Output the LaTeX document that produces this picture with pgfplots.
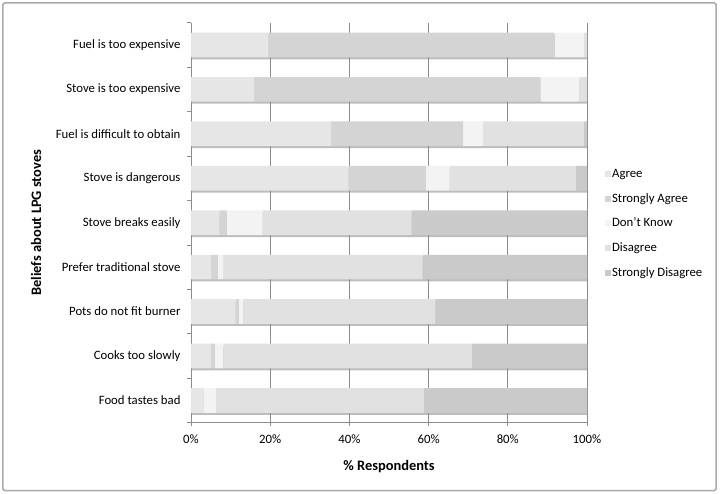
\documentclass[border=0pt]{standalone}
\usepackage{pgfplots}
\usepackage{pgfplotstable}
\pgfplotsset{compat=1.18}
\usepackage{fontspec}
\setmainfont{Carlito}
\definecolor{cAgree}{HTML}{E6E6E6}
\definecolor{cSA}{HTML}{D4D4D4}
\definecolor{cDK}{HTML}{F3F3F3}
\definecolor{cD}{HTML}{E1E1E1}
\definecolor{cSD}{HTML}{CACACA}
\definecolor{axgray}{HTML}{8C8C8C}
\definecolor{framegray}{HTML}{ABABAB}
\definecolor{shadowgray}{HTML}{BDBDBD}

\pgfplotstableread{
y agree sagree dk dis sdis total
0 19.5 72.3 7.4 0.8 0.0 100
1 15.9 72.3 9.9 1.9 0.0 100
2 35.4 33.3 5.1 25.4 0.8 100
3 39.8 19.5 6.0 31.9 2.8 100
4 7.2 1.8 9.1 37.6 44.3 100
5 5.1 1.7 1.3 50.4 41.5 100
6 11.3 0.8 1.1 48.5 38.3 100
7 5.1 0.9 2.2 62.8 29.0 100
8 3.1 0.0 3.2 52.5 41.2 100
}\beliefs

\begin{document}
\begin{tikzpicture}
\useasboundingbox (-191bp,-71.3bp) rectangle (529bp,422.7bp);
\draw[framegray, line width=1.5bp, rounded corners=1.5bp] (-188bp,-67.8bp) rectangle (525bp,419.7bp);

% bar shadows
\begin{axis}[at={(0,0)}, anchor=south west, width=396bp, height=400bp, scale only axis,
  hide axis, xmin=0, xmax=100, ymin=-0.5, ymax=8.5, y dir=reverse,
  xbar, bar width=24.7bp, bar shift=-2bp]
\addplot[fill=shadowgray, draw=none] table[x=total, y=y] {\beliefs};
\end{axis}

\begin{axis}[at={(0,0)}, anchor=south west, width=396bp, height=400bp, scale only axis,
  xbar stacked, bar width=24.7bp,
  xmin=0, xmax=100, ymin=-0.5, ymax=8.5, y dir=reverse,
  axis x line*=bottom, axis y line*=left,
  axis line style={axgray, line width=0.8bp},
  xtick={0,20,40,60,80,100},
  xticklabels={0\%,20\%,40\%,60\%,80\%,100\%},
  xmajorgrids, major x grid style={axgray, line width=0.8bp},
  ytick={0,...,8},
  yticklabels={Fuel is too expensive, Stove is too expensive, Fuel is difficult to obtain, Stove is dangerous, Stove breaks easily, Prefer traditional stove, Pots do not fit burner, Cooks too slowly, Food tastes bad},
  minor ytick={-0.5,0.5,...,8.5},
  tick align=outside, major tick length=3.5bp, minor tick length=4bp,
  major y tick style={draw=none},
  minor y tick style={axgray, line width=0.8bp},
  major x tick style={axgray, line width=0.8bp},
  ticklabel style={font=\fontsize{12.8}{15}\selectfont, text=black},
  yticklabel style={xshift=-3.5bp},
  xticklabel style={yshift=-5bp},
  xlabel={\% Respondents},
  ylabel={Beliefs about LPG stoves},
  every axis x label/.style={at={(axis description cs:0.5,0)}, anchor=center, yshift=-44bp,
    font=\fontsize{14.5}{17}\selectfont\bfseries},
  every axis y label/.style={at={(axis description cs:0,0.5)}, anchor=center,
    xshift=-155bp, rotate=90, font=\fontsize{14.5}{17}\selectfont\bfseries},
  legend style={draw=none, fill=none, at={(1.044,0.4975)}, anchor=west,
    inner sep=0pt, row sep=9.7bp, font=\fontsize{12.8}{15}\selectfont,
    nodes={inner sep=1.5bp, text height=9bp, text depth=3bp}},
  legend cell align=left,
  legend image code/.code={\fill[#1] (0bp,-2.5bp) rectangle (6bp,3.5bp);},
]
\addplot[fill=cAgree, draw=none] table[x=agree, y=y] {\beliefs};
\addplot[fill=cSA, draw=none] table[x=sagree, y=y] {\beliefs};
\addplot[fill=cDK, draw=none] table[x=dk, y=y] {\beliefs};
\addplot[fill=cD, draw=none] table[x=dis, y=y] {\beliefs};
\addplot[fill=cSD, draw=none] table[x=sdis, y=y] {\beliefs};
\legend{Agree, Strongly Agree, Don't Know, Disagree, Strongly Disagree}
\end{axis}
\end{tikzpicture}
\end{document}
